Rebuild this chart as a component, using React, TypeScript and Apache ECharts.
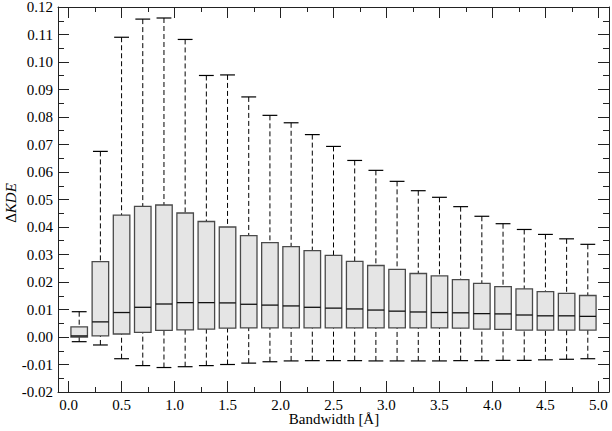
import React, { useEffect, useRef } from "react";
import * as echarts from "echarts";

const bandwidths = [0.1, 0.3, 0.5, 0.7, 0.9, 1.1, 1.3, 1.5, 1.7, 1.9, 2.1, 2.3, 2.5, 2.7, 2.9, 3.1, 3.3, 3.5, 3.7, 3.9, 4.1, 4.3, 4.5, 4.7, 4.9];
const whiskerHigh = [0.0092, 0.0675, 0.109, 0.1156, 0.116, 0.1082, 0.0951, 0.0953, 0.0873, 0.0806, 0.0779, 0.0736, 0.0693, 0.0642, 0.0606, 0.0566, 0.0532, 0.0508, 0.0474, 0.0439, 0.0412, 0.0391, 0.0373, 0.0357, 0.0337];
const quartile3 = [0.0037, 0.0274, 0.0443, 0.0475, 0.048, 0.0451, 0.042, 0.04, 0.0369, 0.0343, 0.0329, 0.0314, 0.0297, 0.0275, 0.026, 0.0246, 0.0231, 0.0222, 0.0209, 0.0195, 0.0183, 0.0175, 0.0165, 0.0159, 0.0151];
const medians = [0.0004, 0.0055, 0.0089, 0.0108, 0.012, 0.0125, 0.0125, 0.0124, 0.0119, 0.0116, 0.0113, 0.0108, 0.0105, 0.0102, 0.0098, 0.0094, 0.0091, 0.0089, 0.0088, 0.0085, 0.0084, 0.008, 0.0077, 0.0077, 0.0075];
const quartile1 = [0.0, 0.0004, 0.0011, 0.0017, 0.0024, 0.0026, 0.0029, 0.0032, 0.0033, 0.0033, 0.0033, 0.0033, 0.0033, 0.0033, 0.0033, 0.0033, 0.0033, 0.0033, 0.0032, 0.0029, 0.0028, 0.0025, 0.0025, 0.0025, 0.0025];
const whiskerLow = [-0.0017, -0.0029, -0.0079, -0.0104, -0.0111, -0.0108, -0.0104, -0.01, -0.0095, -0.009, -0.0087, -0.0086, -0.0086, -0.0086, -0.0087, -0.0087, -0.0087, -0.0087, -0.0086, -0.0086, -0.0085, -0.0085, -0.0083, -0.0081, -0.0079];

const xMajorTicks = [0, 0.5, 1, 1.5, 2, 2.5, 3, 3.5, 4, 4.5, 5];
const xMinorTicks = [0.25, 0.75, 1.25, 1.75, 2.25, 2.75, 3.25, 3.75, 4.25, 4.75];
const xTitle = "Bandwidth [Å]";

const FONT = "'Liberation Serif', 'Times New Roman', serif";
const BOX_W = 0.156;
const CAP_W = 0.14;

export default function App() {
  const ref = useRef<HTMLDivElement>(null);
  useEffect(() => {
    if (!ref.current) return;
    const chart = echarts.init(ref.current, null, { renderer: "svg" });
    const data = bandwidths.map((x, i) => [x, whiskerLow[i], quartile1[i], medians[i], quartile3[i], whiskerHigh[i]]);
    const axisLine = { show: true, onZero: false, lineStyle: { color: "#222", width: 1 } };
    const noLine = { show: false, onZero: false };
    const xBase = { type: "value", min: -0.1, max: 5.1, splitLine: { show: false }, axisLine };
    const yBase = { type: "value", min: -0.02, max: 0.12, interval: 0.01, splitLine: { show: false }, axisLine };
    chart.setOption({
      animation: false,
      grid: { left: 58, right: 3, top: 7, bottom: 39, containLabel: false, outerBoundsMode: "none" },
      xAxis: [
        {
          ...xBase,
          position: "bottom",
          axisTick: { show: true, inside: true, length: 11, customValues: xMajorTicks, lineStyle: { color: "#222" } },
          axisLabel: { show: true, margin: 5, customValues: xMajorTicks, fontFamily: FONT, fontSize: 15, color: "#000", formatter: (v: number) => v.toFixed(1) },
        },
        {
          ...xBase,
          position: "bottom",
          axisLine: noLine,
          axisTick: { show: true, inside: true, length: 5, customValues: xMinorTicks, lineStyle: { color: "#222" } },
          axisLabel: { show: false },
        },
        {
          ...xBase,
          position: "top",
          axisTick: { show: true, inside: true, length: 11, customValues: xMajorTicks, lineStyle: { color: "#222" } },
          axisLabel: { show: false },
        },
        {
          ...xBase,
          position: "top",
          axisLine: noLine,
          axisTick: { show: true, inside: true, length: 5, customValues: xMinorTicks, lineStyle: { color: "#222" } },
          axisLabel: { show: false },
        },
      ],
      yAxis: [
        {
          ...yBase,
          position: "left",
          axisTick: { show: true, inside: true, length: 11, lineStyle: { color: "#222" } },
          minorTick: { show: true, splitNumber: 2, length: 6, lineStyle: { color: "#222" } },
          axisLabel: { show: true, margin: 5, fontFamily: FONT, fontSize: 15, color: "#000", formatter: (v: number) => v.toFixed(2) },
        },
        {
          ...yBase,
          position: "right",
          axisTick: { show: true, inside: true, length: 11, lineStyle: { color: "#222" } },
          minorTick: { show: true, splitNumber: 2, length: 6, lineStyle: { color: "#222" } },
          axisLabel: { show: false },
        },
      ],
      graphic: [
        {
          type: "text",
          x: 11,
          y: 203,
          rotation: Math.PI / 2,
          style: {
            text: "{a|Δ}{b|KDE}",
            align: "center",
            verticalAlign: "middle",
            rich: {
              a: { fontFamily: FONT, fontSize: 15, fill: "#000", color: "#000" },
              b: { fontFamily: FONT, fontSize: 15, fontStyle: "italic", fill: "#000", color: "#000" },
            },
          },
        },
        {
          type: "text",
          x: 334,
          y: 419,
          style: {
            text: xTitle,
            align: "center",
            verticalAlign: "middle",
            fontFamily: FONT,
            fontSize: 15,
            fill: "#000",
          },
        },
      ],
      series: [
        {
          type: "custom",
          xAxisIndex: 0,
          yAxisIndex: 0,
          data,
          encode: { x: 0, y: [1, 2, 3, 4, 5] },
          renderItem: (params: any, api: any) => {
            const x = api.value(0);
            const [cx, yLo] = api.coord([x, api.value(1)]);
            const yQ1 = api.coord([x, api.value(2)])[1];
            const yMd = api.coord([x, api.value(3)])[1];
            const yQ3 = api.coord([x, api.value(4)])[1];
            const yHi = api.coord([x, api.value(5)])[1];
            const bw = api.size([BOX_W, 0])[0];
            const cw = api.size([CAP_W, 0])[0];
            const dashStyle = { stroke: "#000", lineWidth: 1, lineDash: [5, 3] };
            const solid = { stroke: "#000", lineWidth: 1.2 };
            return {
              type: "group",
              children: [
                { type: "line", shape: { x1: cx, y1: yHi, x2: cx, y2: yQ3 }, style: dashStyle },
                { type: "line", shape: { x1: cx, y1: yLo, x2: cx, y2: yQ1 }, style: dashStyle },
                { type: "line", shape: { x1: cx - cw / 2, y1: yHi, x2: cx + cw / 2, y2: yHi }, style: solid },
                { type: "line", shape: { x1: cx - cw / 2, y1: yLo, x2: cx + cw / 2, y2: yLo }, style: solid },
                {
                  type: "rect",
                  shape: { x: cx - bw / 2, y: yQ3, width: bw, height: yQ1 - yQ3 },
                  style: { fill: "#e5e5e5", stroke: "#4a4a4a", lineWidth: 1.3 },
                },
                { type: "line", shape: { x1: cx - bw / 2, y1: yMd, x2: cx + bw / 2, y2: yMd }, style: { stroke: "#111", lineWidth: 1.3 } },
              ],
            };
          },
        },
      ],
    });
    return () => chart.dispose();
  }, []);
  return <div ref={ref} style={{ position: "fixed", left: 0, top: 0, width: 612, height: 431, background: "#fff" }} />;
}
